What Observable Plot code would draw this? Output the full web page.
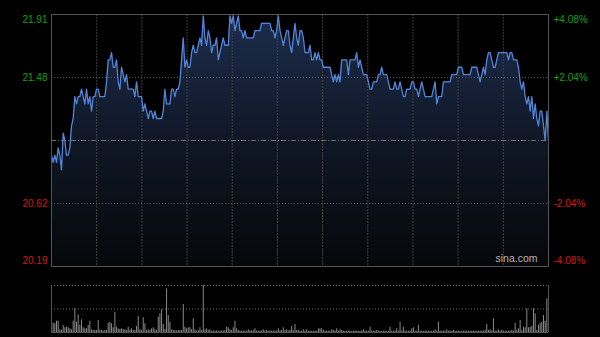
<!DOCTYPE html>
<html><head><meta charset="utf-8">
<script src="https://cdn.jsdelivr.net/npm/d3@7"></script>
<script src="https://cdn.jsdelivr.net/npm/@observablehq/plot@0.6"></script>
<style>
html,body{margin:0;padding:0;background:#000;}
#wrap{position:relative;width:600px;height:337px;background:#000;overflow:hidden;}
#wrap svg{position:absolute;left:0;}
</style></head><body><div id="wrap"></div>
<script>
// ---- data ----
const prevClose = 21.05;
const priceMax = 21.91;
const priceMin = 20.19;
const priceTicks = [21.91, 21.48, 20.62, 20.19];
const pctLabels = ["+4.08%", "+2.04%", "-2.04%", "-4.08%"];
const sessionMinutes = 330;           // HK session 9:30-12:00, 13:00-16:00
const timeGrid = [30, 60, 90, 120, 150, 180, 210, 240, 270, 300];
const watermark = "sina.com";

const prices = [
 20.95,20.90,20.95,20.90,21.00,20.95,20.85,21.10,21.05,20.95,
 20.95,21.00,21.15,21.20,21.35,21.30,21.35,21.35,21.40,21.35,
 21.30,21.40,21.30,21.35,21.25,21.35,21.35,21.40,21.40,21.35,
 21.35,21.35,21.35,21.45,21.60,21.60,21.65,21.55,21.55,21.60,
 21.45,21.40,21.55,21.50,21.45,21.50,21.40,21.40,21.40,21.40,
 21.35,21.45,21.35,21.35,21.35,21.25,21.30,21.25,21.20,
 21.25,21.25,21.20,21.25,21.20,21.20,21.20,21.20,21.25,21.40,
 21.30,21.30,21.30,21.40,21.40,21.35,21.40,21.40,21.45,21.60,
 21.75,21.55,21.60,21.55,21.55,21.65,21.70,21.65,21.65,21.70,
 21.75,21.70,21.90,21.75,21.70,21.80,21.75,21.65,21.70,21.70,
 21.75,21.60,21.65,21.70,21.75,21.70,21.70,21.70,21.90,21.85,
 21.90,21.80,21.85,21.90,21.80,21.80,21.75,21.80,21.75,21.75,
 21.75,21.75,21.75,21.80,21.80,21.80,21.80,21.85,21.85,21.85,
 21.85,21.85,21.85,21.80,21.80,21.75,21.80,21.90,21.80,21.75,
 21.70,21.75,21.80,21.80,21.70,21.65,21.75,21.85,21.75,21.70,
 21.80,21.80,21.75,21.65,21.65,21.65,21.70,21.60,21.60,21.65,
 21.60,21.65,21.60,21.60,21.55,21.55,21.55,21.55,21.55,21.50,
 21.45,21.50,21.45,21.50,21.45,21.60,21.60,21.60,21.60,21.50,
 21.60,21.60,21.60,21.60,21.65,21.55,21.60,21.55,21.50,21.50,
 21.50,21.45,21.40,21.40,21.45,21.45,21.45,21.50,21.50,21.55,
 21.50,21.50,21.50,21.45,21.40,21.40,21.40,21.45,21.40,21.40,
 21.45,21.40,21.35,21.35,21.40,21.40,21.40,21.45,21.45,21.40,
 21.40,21.35,21.40,21.45,21.40,21.35,21.35,21.35,21.35,21.35,
 21.40,21.45,21.30,21.35,21.35,21.35,21.45,21.45,21.45,21.45,
 21.45,21.50,21.50,21.50,21.50,21.55,21.55,21.55,21.50,21.50,
 21.50,21.50,21.50,21.55,21.55,21.55,21.55,21.50,21.45,21.50,
 21.55,21.50,21.60,21.65,21.65,21.60,21.55,21.55,21.60,21.65,
 21.65,21.65,21.65,21.65,21.65,21.60,21.65,21.65,21.60,21.60,
 21.60,21.55,21.45,21.40,21.45,21.35,21.30,21.35,21.25,21.35,
 21.20,21.30,21.20,21.15,21.25,21.25,21.15,21.05,21.25,21.05
];

const volumes = [
 127,93,87,113,113,27,20,70,47,53, 47,37,27,113,237,103,177,70,127,47,
 37,37,70,113,27,20,20,20,120,25, 20,15,20,20,93,103,87,47,203,53,
 37,30,37,30,27,20,53,25,37,20, 20,60,160,27,20,147,87,20,27,20,
 37,47,27,20,153,187,227,80,30,437, 170,103,27,20,20,15,20,20,20,280,
 53,37,47,47,27,137,27,13,20,47, 20,470,27,37,20,27,13,15,13,15,
 13,13,15,15,20,53,47,27,20,47, 113,37,20,13,13,15,13,13,27,15,
 15,20,37,15,13,15,15,27,15,20, 13,15,13,15,13,15,37,15,20,47,
 20,27,15,20,60,20,80,20,20,13, 10,27,13,27,10,13,10,13,10,13,
 37,37,37,20,13,10,13,10,27,20, 13,37,13,27,20,13,10,13,15,13,
 10,13,15,13,10,13,15,27,13,13, 13,53,13,13,13,20,13,13,10,13,
 13,10,13,53,13,13,13,37,13,103, 15,53,13,13,13,13,37,47,13,13,
 70,13,13,10,13,13,13,10,13,13, 27,13,103,13,13,13,13,27,13,13,
 13,20,13,13,13,10,13,13,13,13, 13,10,13,13,13,10,13,13,13,13,
 20,80,20,27,15,137,15,13,27,13, 20,13,13,13,13,13,20,13,93,20,
 37,120,20,53,47,237,47,53,60,237, 187,20,70,93,103,170,113,337,470
];

const n = prices.length;
const series = prices.map((p, i) => ({t: i * sessionMinutes / (n - 1), price: p, vol: volumes[i]}));

// ---- style ----
const green = "#12a012";
const red = "#d41a0c";
const font = "'Liberation Sans', Arial, sans-serif";
const left = 51, right = 52;

const gradientDefs = () => {
  const ns = "http://www.w3.org/2000/svg";
  const defs = document.createElementNS(ns, "defs");
  const lg = document.createElementNS(ns, "linearGradient");
  lg.setAttribute("id", "areaGrad");
  lg.setAttribute("x1", "0"); lg.setAttribute("x2", "0");
  lg.setAttribute("y1", "0"); lg.setAttribute("y2", "1");
  [["0", "#1c2c4b"], ["0.5", "#0f1726"], ["1", "#060709"]].forEach(([o, c]) => {
    const s = document.createElementNS(ns, "stop");
    s.setAttribute("offset", o); s.setAttribute("stop-color", c);
    lg.appendChild(s);
  });
  defs.appendChild(lg);
  return defs;
};

const labelMark = (value, text, color, side, dy) =>
  Plot.text([value], {
    y: d => d, text: () => text,
    frameAnchor: side, textAnchor: side === "left" ? "end" : "start",
    dx: side === "left" ? -4 : 5, dy,
    fill: color, fontSize: 10, fontFamily: font
  });

const pricePlot = Plot.plot({
  width: 600, height: 270,
  marginLeft: left, marginRight: right, marginTop: 14, marginBottom: 4,
  style: {background: "transparent", overflow: "visible"},
  x: {domain: [0, sessionMinutes], axis: null},
  y: {domain: [priceMin, priceMax], axis: null},
  marks: [
    gradientDefs,
    Plot.areaY(series, {x: "t", y1: priceMin, y2: "price", fill: "url(#areaGrad)"}),
    Plot.ruleX(timeGrid, {stroke: "#3e3e3e", strokeDasharray: "2,1"}),
    Plot.ruleY([priceTicks[1], priceTicks[2]], {stroke: "#5a5a5a", strokeDasharray: "1,2"}),
    Plot.ruleY([prevClose], {stroke: "#707070", strokeDasharray: "5,2,1,2"}),
    Plot.lineY(series, {x: "t", y: "price", stroke: "#4f86da", strokeWidth: 1.3}),
    Plot.frame({stroke: "#555"}),
    labelMark(priceTicks[0], priceTicks[0].toFixed(2), green, "left", 5),
    labelMark(priceTicks[1], priceTicks[1].toFixed(2), green, "left", 0),
    labelMark(priceTicks[2], priceTicks[2].toFixed(2), red, "left", 0),
    labelMark(priceTicks[3], priceTicks[3].toFixed(2), red, "left", -6),
    labelMark(priceTicks[0], pctLabels[0], green, "right", 5),
    labelMark(priceTicks[1], pctLabels[1], green, "right", 0),
    labelMark(priceTicks[2], pctLabels[2], red, "right", 0),
    labelMark(priceTicks[3], pctLabels[3], red, "right", -6),
    Plot.text([watermark], {text: d => d, frameAnchor: "bottom-right", textAnchor: "end",
      dx: -11, dy: -5, fill: "#b4b4b4", fontSize: 10.5, fontFamily: font})
  ]
});
pricePlot.style.top = "0px";

const volMax = d3.max(volumes);
const volPlot = Plot.plot({
  width: 600, height: 67,
  marginLeft: left, marginRight: right, marginTop: 15, marginBottom: 5,
  style: {background: "transparent", overflow: "visible"},
  x: {domain: [0, sessionMinutes], axis: null},
  y: {domain: [0, volMax], axis: null},
  marks: [
    Plot.ruleY([volMax, volMax / 2], {stroke: "#6a6a6a", strokeDasharray: "1,2"}),
    Plot.ruleX(series, {x: "t", y1: 0, y2: "vol", stroke: "#8a8a8a", strokeWidth: 1}),
    Plot.ruleX([0, sessionMinutes], {stroke: "#555"}),
    Plot.ruleY([0], {stroke: "#555"})
  ]
});
volPlot.style.top = "270px";

const wrap = document.getElementById("wrap");
wrap.appendChild(pricePlot);
wrap.appendChild(volPlot);
</script>
</body></html>
